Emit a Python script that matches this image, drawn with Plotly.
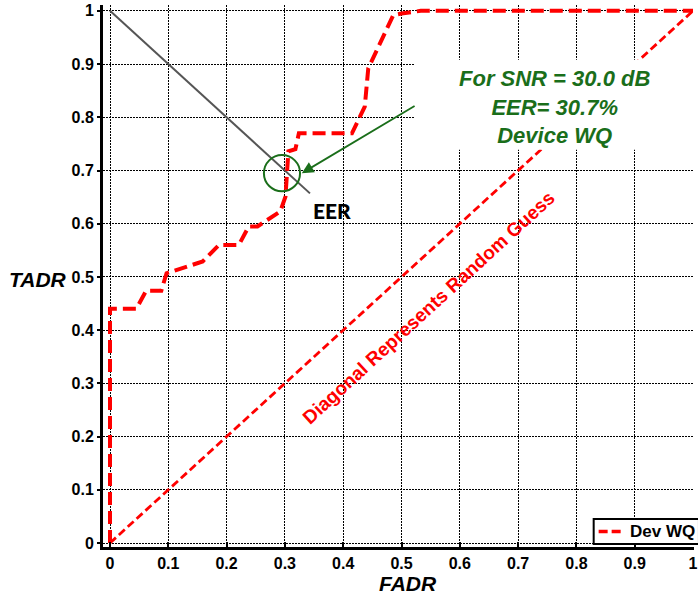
import plotly.graph_objects as go

# ROC curve for device WQ (FADR vs TADR)
fadr = [0.0, 0.0, 0.045, 0.062, 0.088, 0.097, 0.159, 0.187, 0.221, 0.238, 0.253,
        0.292, 0.301, 0.306, 0.318, 0.324, 0.415, 0.437, 0.443, 0.486, 0.50, 0.533, 1.0]
tadr = [0.0, 0.44, 0.44, 0.474, 0.474, 0.507, 0.529, 0.56, 0.56, 0.595, 0.595,
        0.623, 0.651, 0.736, 0.74, 0.770, 0.770, 0.82, 0.892, 0.992, 0.995, 1.0, 1.0]
diag_x = [0.0, 1.0]
diag_y = [0.0, 1.0]
eer_line_x = [0.0, 0.343]
eer_line_y = [1.0, 0.657]
tick_vals = [0, 0.1, 0.2, 0.3, 0.4, 0.5, 0.6, 0.7, 0.8, 0.9, 1.0]
tick_text = ["0", "0.1", "0.2", "0.3", "0.4", "0.5", "0.6", "0.7", "0.8", "0.9", "1"]
legend_label = "Dev WQ"

RED = "#ff0000"
GREEN = "#1a6e1a"
FONT = "Arial, Liberation Sans, sans-serif"

fig = go.Figure()
fig.add_trace(go.Scatter(x=diag_x, y=diag_y, mode="lines", showlegend=False,
                         line=dict(color=RED, width=2.8, dash="8px,4px")))
fig.add_trace(go.Scatter(x=eer_line_x, y=eer_line_y, mode="lines", showlegend=False,
                         line=dict(color="#555555", width=2)))
fig.add_trace(go.Scatter(x=fadr, y=tadr, mode="lines", name=legend_label, showlegend=False,
                         line=dict(color=RED, width=4, dash="13px,6px")))

axis_common = dict(
    tickvals=tick_vals, ticktext=tick_text,
    showgrid=True, gridcolor="#000000", gridwidth=1.3, griddash="1.5px,1.5px",
    zeroline=False, showline=True, linecolor="black", linewidth=3,
    tickwidth=2, tickcolor="black",
    tickfont=dict(family=FONT, size=16, color="black", weight="bold"),
)
fig.update_xaxes(range=[-0.012, 1.0017], ticks="inside", ticklen=5,
                 ticklabeloverflow="allow", **axis_common)
fig.update_yaxes(range=[-0.0075, 1.011], ticks="outside", ticklen=3,
                 **axis_common)

# white box behind the SNR annotation
fig.add_shape(type="rect", xref="x", yref="y", x0=0.523, x1=1.05, y0=0.739, y1=0.908,
              fillcolor="white", line=dict(width=0), layer="above")
# green circle at EER
fig.add_shape(type="circle", xref="x", yref="y", x0=0.264, x1=0.326, y0=0.661, y1=0.729,
              line=dict(color=GREEN, width=2), layer="above")

fig.add_annotation(x=0.329, y=0.695, ax=0.525, ay=0.823, xref="x", yref="y",
                   axref="x", ayref="y", text="", showarrow=True,
                   arrowhead=2, arrowsize=1.3, arrowwidth=1.8, arrowcolor=GREEN)
fig.add_annotation(x=0.762, y=0.819, xref="x", yref="y", showarrow=False,
                   text="For SNR = 30.0 dB<br>EER= 30.7%<br>Device WQ",
                   font=dict(family=FONT, size=22, color=GREEN, weight="bold", style="italic"))
fig.add_annotation(x=0.38, y=0.625, xref="x", yref="y", showarrow=False, text="EER",
                   font=dict(family="Lato, Open Sans, sans-serif", size=21, color="black", weight=900))
fig.add_annotation(x=0.547, y=0.442, xref="x", yref="y", showarrow=False,
                   text="Diagonal Represents Random Guess", textangle=-42.5,
                   font=dict(family=FONT, size=19, color=RED, weight="bold"))
fig.add_annotation(x=(410 - 103) / 595, y=(547 - 583) / 542, xref="paper", yref="paper",
                   xanchor="center", yanchor="middle", showarrow=False, text="FADR",
                   font=dict(family=FONT, size=21, color="black", weight="bold", style="italic"))
fig.add_annotation(x=(38 - 103) / 595, y=(547 - 279) / 542, xref="paper", yref="paper",
                   xanchor="center", yanchor="middle", showarrow=False, text="TADR",
                   font=dict(family=FONT, size=21, color="black", weight="bold", style="italic"))

# compact legend box (bottom right)
fig.add_shape(type="rect", xref="paper", yref="paper",
              x0=(597 - 103) / 595, x1=(703 - 103) / 595,
              y0=(547 - 544) / 542, y1=(547 - 519) / 542,
              fillcolor="white", line=dict(color="black", width=2), layer="above")
fig.add_shape(type="line", xref="paper", yref="paper",
              x0=(602 - 103) / 595, x1=(628 - 103) / 595,
              y0=(547 - 531.5) / 542, y1=(547 - 531.5) / 542,
              line=dict(color=RED, width=3.5, dash="9px,4px"), layer="above")
fig.add_annotation(x=(632 - 103) / 595, y=(547 - 531.5) / 542, xref="paper", yref="paper",
                   xanchor="left", yanchor="middle", showarrow=False, text=legend_label,
                   font=dict(family=FONT, size=17, color="black", weight="bold"))

fig.update_layout(
    width=698, height=596,
    margin=dict(l=103, r=0, t=5, b=49),
    plot_bgcolor="white", paper_bgcolor="white",
    showlegend=False,
)
fig.write_html("out.html")
